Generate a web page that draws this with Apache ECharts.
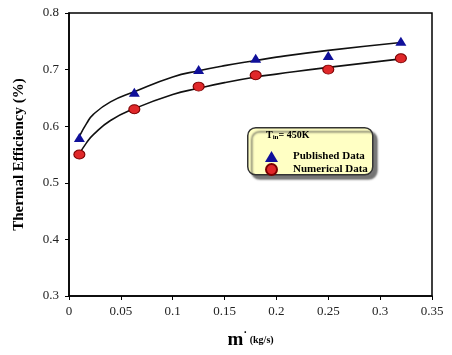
<!DOCTYPE html>
<html>
<head>
<meta charset="utf-8">
<script src="https://cdn.jsdelivr.net/npm/echarts@6/dist/echarts.min.js"></script>
<style>
  html, body { margin: 0; padding: 0; background: #fff; }
  #chart { width: 452px; height: 355px; }
</style>
</head>
<body>
<div id="chart"></div>
<script>
// measured points
const massFlow = [0.01, 0.063, 0.125, 0.18, 0.25, 0.32]
const publishedData = [0.58, 0.66, 0.70, 0.72, 0.725, 0.75]
const numericalData = [0.55, 0.63, 0.67, 0.69, 0.70, 0.72]

// fitted curves
const fitX = [0.01, 0.017, 0.0235, 0.04, 0.063, 0.1, 0.125, 0.15, 0.18, 0.2, 0.25, 0.32]
const fitPublished = [0.582, 0.605, 0.621, 0.643, 0.661, 0.687, 0.698, 0.707, 0.716, 0.722, 0.734, 0.748]
const fitNumerical = [0.551, 0.571, 0.585, 0.610, 0.631, 0.656, 0.667, 0.677, 0.687, 0.692, 0.704, 0.719]

const serif = '"Liberation Serif", "DejaVu Serif", serif'

const pair = (xs, ys) => xs.map((x, i) => [x, ys[i]])

const chart = echarts.init(document.getElementById('chart'))

const option = {
  animation: false,
  backgroundColor: '#fff',
  grid: {
    left: 69,
    right: 20,
    top: 13,
    bottom: 55,
    show: true,
    borderColor: '#000',
    borderWidth: 1.5
  },
  xAxis: {
    type: 'value',
    min: 0,
    max: 0.35,
    interval: 0.05,
    name: '{m|m}{dot|˙}{u| (kg/s)}',
    nameLocation: 'middle',
    nameGap: 35,
    nameTextStyle: {
      rich: {
        m: { fontFamily: serif, fontWeight: 'bold', fontSize: 19, color: '#000' },
        dot: { fontFamily: serif, fontWeight: 'bold', fontSize: 12, color: '#000', verticalAlign: 'top' },
        u: { fontFamily: serif, fontWeight: 'bold', fontSize: 10, color: '#000' }
      }
    },
    splitLine: { show: false },
    axisLine: { lineStyle: { color: '#000', width: 1.5 } },
    axisTick: { lineStyle: { color: '#000' }, length: 4 },
    axisLabel: { fontFamily: serif, fontSize: 13, color: '#222', margin: 9 }
  },
  yAxis: {
    type: 'value',
    min: 0.3,
    max: 0.8,
    interval: 0.1,
    name: 'Thermal Efficiency (%)',
    nameLocation: 'middle',
    nameGap: 42,
    nameTextStyle: { fontFamily: serif, fontWeight: 'bold', fontSize: 15, color: '#000' },
    splitLine: { show: false },
    axisLine: { lineStyle: { color: '#000', width: 1.5 } },
    axisTick: { lineStyle: { color: '#000' }, length: 4 },
    axisLabel: {
      fontFamily: serif, fontSize: 13, color: '#222', margin: 10,
      formatter: v => v.toFixed(1)
    }
  },
  legend: {
    orient: 'vertical',
    left: 260,
    top: 146,
    z: 100,
    itemGap: 1,
    itemWidth: 13,
    itemHeight: 11,
    textStyle: { fontFamily: serif, fontWeight: 'bold', fontSize: 11, color: '#000', padding: [0, 0, 0, 10] },
    data: ['Published Data', 'Numerical Data']
  },
  graphic: [
    {
      type: 'rect',
      left: 247,
      top: 127,
      z: 50,
      shape: { width: 125, height: 47, r: 8 },
      style: {
        fill: '#ffffc4',
        stroke: '#333',
        lineWidth: 1.5,
        shadowColor: 'rgba(60,60,60,0.7)',
        shadowOffsetX: 4,
        shadowOffsetY: 4,
        shadowBlur: 2
      }
    },
    {
      type: 'text',
      left: 266,
      top: 130,
      z: 51,
      style: {
        text: '{t|T}{s|in}{t|= 450K}',
        rich: {
          t: { fontFamily: serif, fontWeight: 'bold', fontSize: 10, fill: '#000' },
          s: { fontFamily: serif, fontWeight: 'bold', fontSize: 7, fill: '#000', verticalAlign: 'bottom', padding: [4, 0, 0, 0] }
        }
      }
    }
  ],
  series: [
    {
      name: 'fitPublished',
      type: 'line',
      smooth: true,
      symbol: 'none',
      data: pair(fitX, fitPublished),
      lineStyle: { color: '#111', width: 1.6 },
      z: 2
    },
    {
      name: 'fitNumerical',
      type: 'line',
      smooth: true,
      symbol: 'none',
      data: pair(fitX, fitNumerical),
      lineStyle: { color: '#111', width: 1.6 },
      z: 2
    },
    {
      name: 'Published Data',
      type: 'scatter',
      symbol: 'triangle',
      symbolSize: [11, 9],
      data: pair(massFlow, publishedData),
      itemStyle: { color: '#10109a', opacity: 1 },
      z: 3
    },
    {
      name: 'Numerical Data',
      type: 'scatter',
      symbol: 'circle',
      symbolSize: [11, 9],
      data: pair(massFlow, numericalData),
      itemStyle: { color: '#e0282a', borderColor: '#7a0000', borderWidth: 1, opacity: 1 },
      z: 3
    }
  ]
}

chart.setOption(option)
</script>
</body>
</html>
